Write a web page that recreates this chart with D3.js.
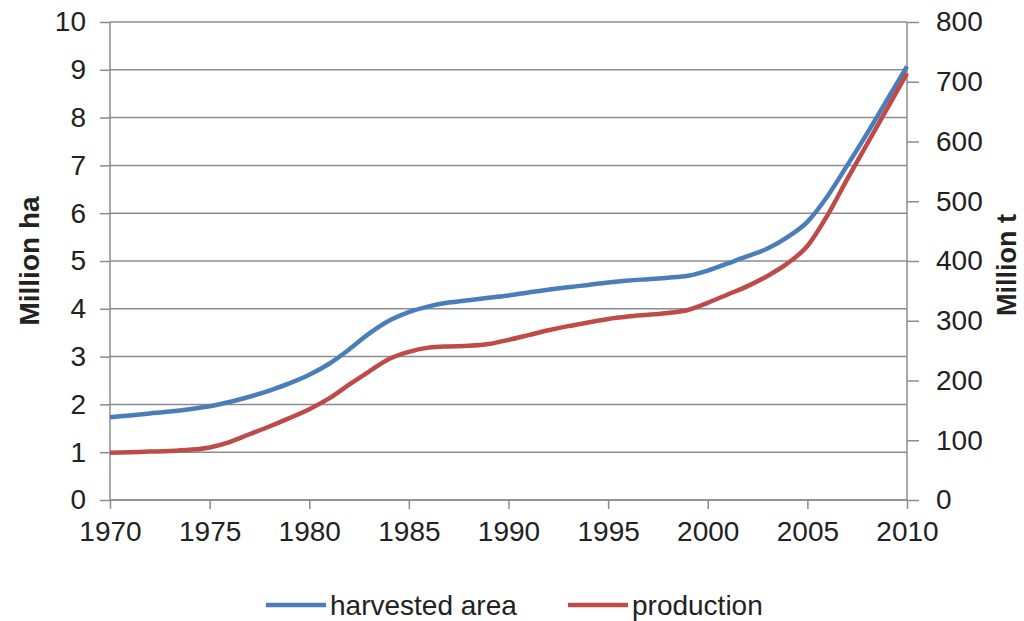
<!DOCTYPE html>
<html>
<head>
<meta charset="utf-8">
<script src="https://cdn.jsdelivr.net/npm/d3@7"></script>
<style>
  body { margin: 0; background: #fff; }
  svg text { font-family: "Liberation Sans Narrow", "Arial Narrow", "Liberation Sans", sans-serif; fill: #222; }
</style>
</head>
<body>
<div id="chart"></div>
<script>
// years and values
const years = d3.range(1970, 2011);
const harvestedArea = [1.73, 1.77, 1.81, 1.85, 1.90, 1.96, 2.05, 2.16, 2.29, 2.44,
  2.62, 2.85, 3.15, 3.48, 3.75, 3.93, 4.05, 4.13, 4.18, 4.23,
  4.28, 4.34, 4.40, 4.45, 4.50, 4.55, 4.59, 4.62, 4.65, 4.69,
  4.80, 4.95, 5.10, 5.26, 5.50, 5.82, 6.35, 7.00, 7.67, 8.37, 9.07];
const production = [79, 80, 81, 82, 84, 88, 97, 110, 123, 137,
  152, 170, 193, 215, 236, 248, 255, 257, 258, 261,
  268, 276, 284, 291, 297, 303, 307, 310, 313, 318,
  330, 344, 358, 375, 396, 425, 476, 537, 596, 655, 714];
const xTicks = [1970, 1975, 1980, 1985, 1990, 1995, 2000, 2005, 2010];
const leftTicks = d3.range(0, 11, 1);
const rightTicks = d3.range(0, 801, 100);

const width = 1024, height = 621;
const plotL = 110, plotR = 907, plotT = 22, plotB = 500;
const grey = "#8c8c8c";

const svg = d3.select("#chart").append("svg")
  .attr("width", width)
  .attr("height", height);

const x = d3.scaleLinear().domain([1970, 2010]).range([plotL, plotR]);
const yL = d3.scaleLinear().domain([0, 10]).range([plotB, plotT]);
const yR = d3.scaleLinear().domain([0, 800]).range([plotB, plotT]);

// horizontal gridlines
svg.append("g")
  .selectAll("line")
  .data(leftTicks)
  .enter()
  .append("line")
  .attr("x1", plotL)
  .attr("x2", plotR)
  .attr("y1", d => yL(d))
  .attr("y2", d => yL(d))
  .attr("stroke", grey)
  .attr("stroke-width", 1.5);

// axes
const axisL = svg.append("g")
  .attr("transform", `translate(${plotL},0)`)
  .call(d3.axisLeft(yL).tickValues(leftTicks).tickSize(10).tickPadding(14));
const axisR = svg.append("g")
  .attr("transform", `translate(${plotR},0)`)
  .call(d3.axisRight(yR).tickValues(rightTicks).tickSize(12).tickPadding(17));
const axisX = svg.append("g")
  .attr("transform", `translate(0,${plotB})`)
  .call(d3.axisBottom(x).tickValues(xTicks).tickFormat(d3.format("d")).tickSize(9).tickPadding(12));

[axisL, axisR, axisX].forEach(g => {
  g.select(".domain").attr("stroke", grey).attr("stroke-width", 1.5);
  g.selectAll(".tick line").attr("stroke", grey).attr("stroke-width", 1.5);
  g.selectAll(".tick text").attr("font-size", 28).attr("fill", "#222");
});
axisL.select(".domain").attr("d", `M0,${plotB}V${plotT}`);
axisR.select(".domain").attr("d", `M0,${plotB}V${plotT}`);
axisX.select(".domain").attr("d", `M${plotL},0H${plotR}`);

// lines
const lineL = d3.line()
  .x((d, i) => x(years[i]))
  .y(d => yL(d))
  .curve(d3.curveMonotoneX);
const lineR = d3.line()
  .x((d, i) => x(years[i]))
  .y(d => yR(d))
  .curve(d3.curveMonotoneX);

svg.append("path")
  .datum(harvestedArea)
  .attr("d", lineL)
  .attr("fill", "none")
  .attr("stroke", "#4a7ebb")
  .attr("stroke-width", 4.5);

svg.append("path")
  .datum(production)
  .attr("d", lineR)
  .attr("fill", "none")
  .attr("stroke", "#be4b48")
  .attr("stroke-width", 4.5);

// axis titles
svg.append("text")
  .attr("transform", `translate(39,${(plotT + plotB) / 2}) rotate(-90)`)
  .attr("text-anchor", "middle")
  .attr("font-size", 28)
  .attr("font-weight", "bold")
  .text("Million ha");

svg.append("text")
  .attr("transform", `translate(1016,${(plotT + plotB) / 2 + 4}) rotate(-90)`)
  .attr("text-anchor", "middle")
  .attr("font-size", 27)
  .attr("font-weight", "bold")
  .text("Million t");

// legend
const legend = [
  { label: "harvested area", color: "#4a7ebb", x: 266 },
  { label: "production", color: "#be4b48", x: 568 }
];
const lg = svg.append("g").selectAll("g")
  .data(legend)
  .enter()
  .append("g")
  .attr("transform", d => `translate(${d.x},605)`);
lg.append("line")
  .attr("x1", 0).attr("x2", 60)
  .attr("stroke", d => d.color)
  .attr("stroke-width", 4.5);
lg.append("text")
  .attr("x", 64)
  .attr("y", 10)
  .attr("font-size", 28)
  .text(d => d.label);
</script>
</body>
</html>
